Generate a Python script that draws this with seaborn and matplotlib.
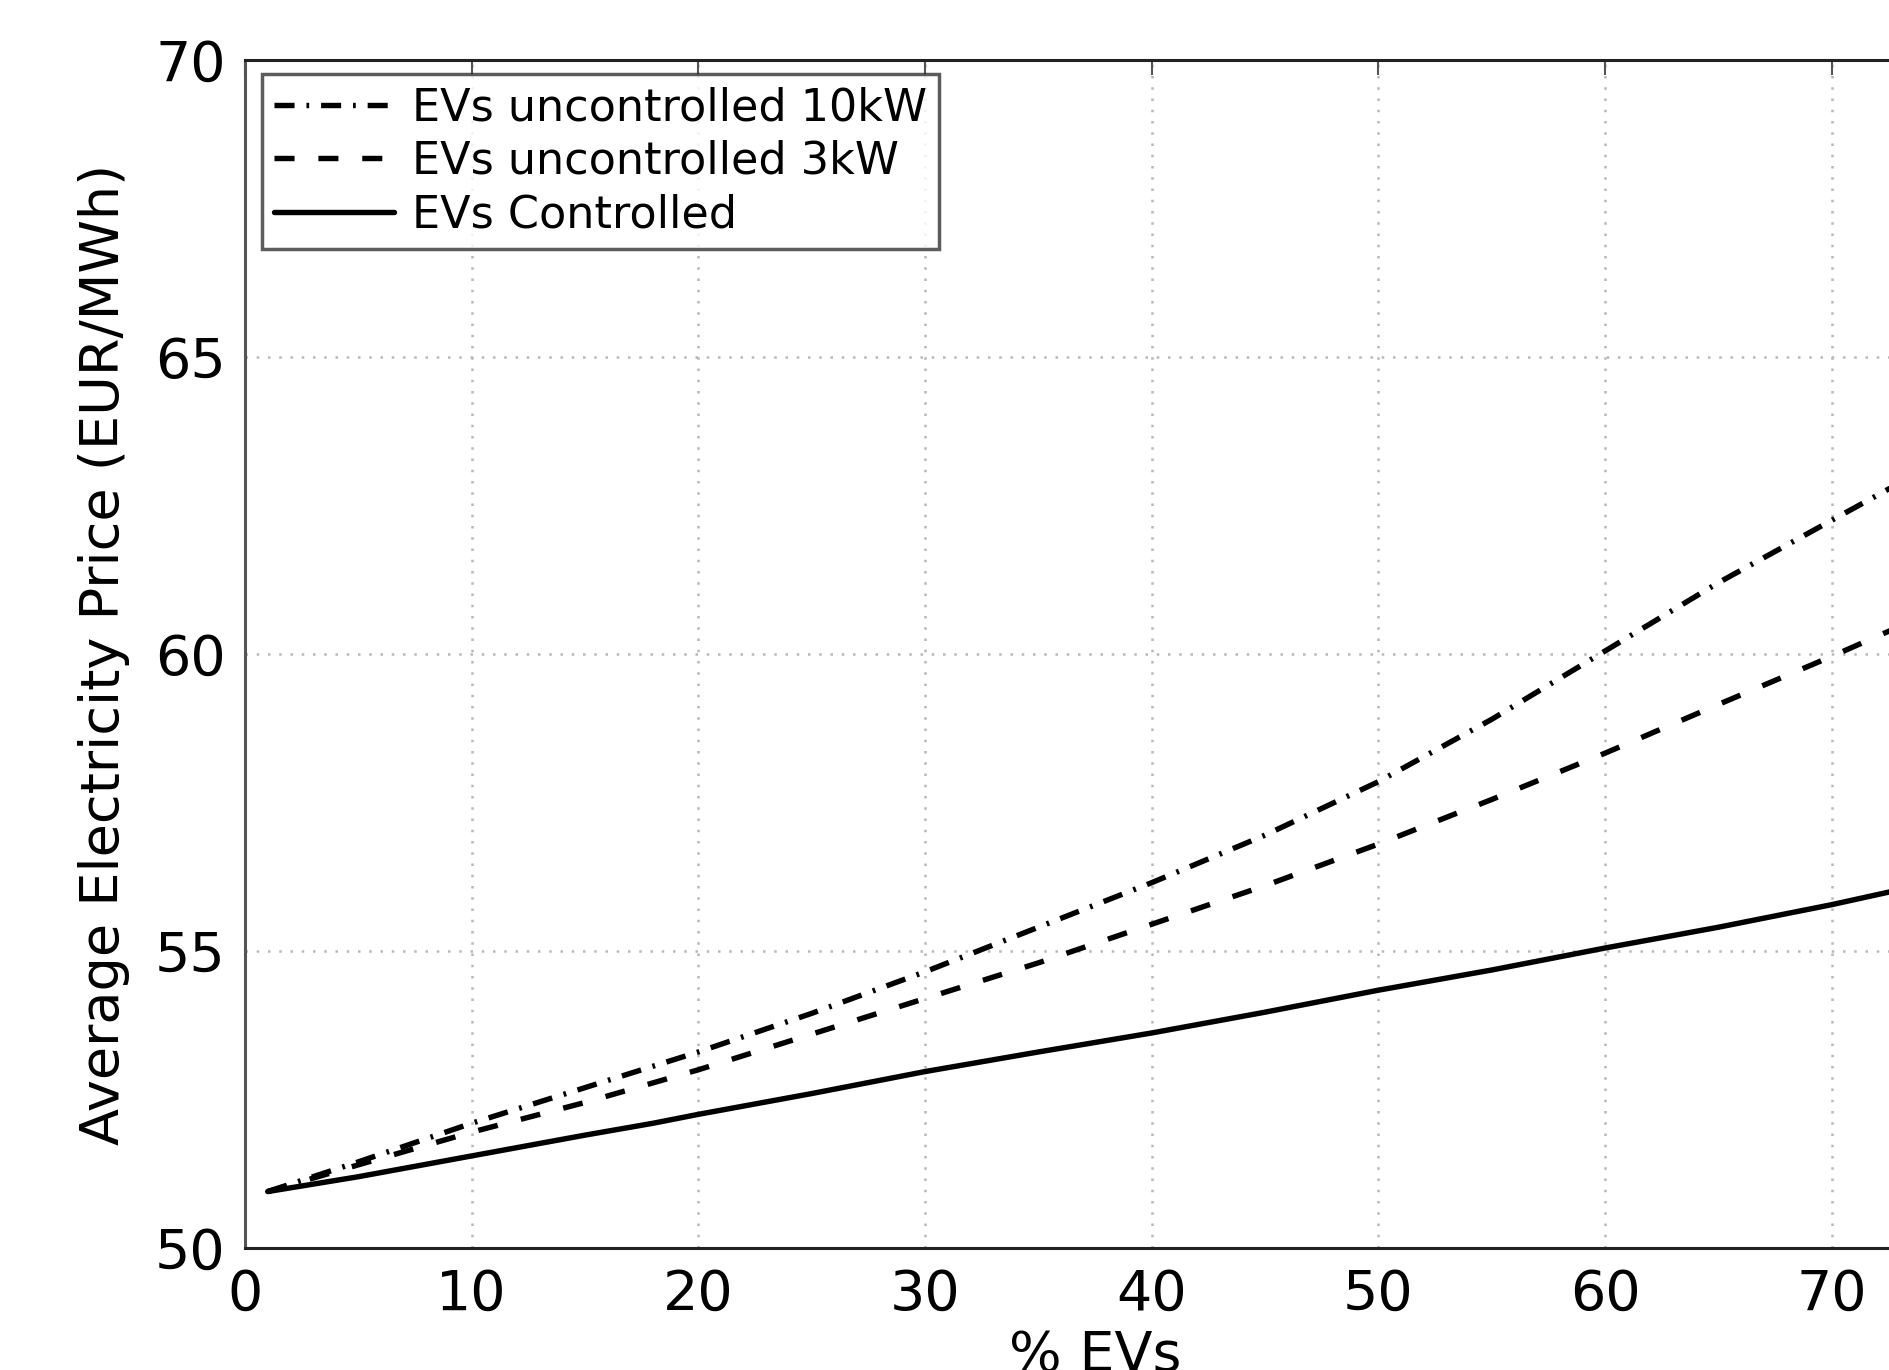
import matplotlib
matplotlib.use("Agg")
import matplotlib.pyplot as plt
import seaborn as sns
import pandas as pd

# ---- data ----
pct_evs = [1, 5, 10, 15, 20, 25, 30, 35, 40, 45, 50, 55, 60, 65, 70, 75]
price_unctrl_10kw = [50.95, 51.45, 52.10, 52.70, 53.30, 53.95, 54.65, 55.40,
                     56.15, 56.95, 57.85, 58.90, 60.05, 61.20, 62.25, 63.30]
price_unctrl_3kw = [50.95, 51.40, 51.95, 52.45, 53.00, 53.60, 54.20, 54.80,
                    55.45, 56.10, 56.80, 57.55, 58.33, 59.15, 59.96, 60.80]
pct_ctrl = [1, 5, 10, 15, 18, 20, 25, 30, 35, 40, 45, 50, 55, 60, 65, 70, 75]
price_ctrl = [50.95, 51.20, 51.55, 51.90, 52.10, 52.25, 52.60, 52.97, 53.30,
              53.62, 53.97, 54.34, 54.68, 55.05, 55.40, 55.78, 56.20]

series_labels = ["EVs uncontrolled 10kW", "EVs uncontrolled 3kW", "EVs Controlled"]
x_ticks = [0, 10, 20, 30, 40, 50, 60, 70]
y_ticks = [50, 55, 60, 65, 70]
x_label = "% EVs"
y_label = "Average Electricity Price (EUR/MWh)"

sns.set_style("white")
plt.rcParams["font.family"] = ["DejaVu Sans"]
plt.rcParams["text.color"] = "black"
plt.rcParams["axes.labelcolor"] = "black"

fig = plt.figure(figsize=(18.9, 13.7), dpi=100)
ax = fig.add_axes([245 / 1890, (1370 - 1248) / 1370, 1700 / 1890, 1188 / 1370])

lw = 3.9
sns.lineplot(x=pct_evs, y=price_unctrl_10kw, ax=ax, color="black", lw=lw,
             label=series_labels[0])
ax.lines[-1].set_dashes((3.7, 2.2, 0.5, 2.2))
sns.lineplot(x=pct_evs, y=price_unctrl_3kw, ax=ax, color="black", lw=lw,
             label=series_labels[1])
ax.lines[-1].set_dashes((3.7, 4.4))
sns.lineplot(x=pct_ctrl, y=price_ctrl, ax=ax, color="black", lw=lw,
             label=series_labels[2])

ax.set_xlim(0, 75)
ax.set_ylim(50, 70)
ax.set_xticks(x_ticks)
ax.set_yticks(y_ticks)
ax.grid(True, linestyle=(0, (1, 3.5)), color="#b8b8b8", lw=1.8)
ax.tick_params(axis="both", direction="in", length=11, width=1.5,
               labelsize=40, pad=14, colors="#555555", labelcolor="black",
               top=True, right=True)
for s in ax.spines.values():
    s.set_visible(True)
    s.set_color("#222222")
    s.set_linewidth(2.2)
ax.spines["left"].set_color("#555555")

ax.set_xlabel(x_label, fontsize=40, labelpad=5, color="black")
ax.set_ylabel(y_label, fontsize=39, labelpad=18, color="black")

leg = ax.legend(loc="upper left", bbox_to_anchor=(0.01, 0.988), fontsize=32,
                frameon=True, fancybox=False, handlelength=2.7,
                handletextpad=0.4, labelspacing=0.24, borderpad=0.27,
                borderaxespad=0)
leg.get_frame().set_edgecolor("#333333")
leg.get_frame().set_linewidth(2.5)
for t in leg.get_texts():
    t.set_color("black")

fig.savefig("out.png", dpi=100)
